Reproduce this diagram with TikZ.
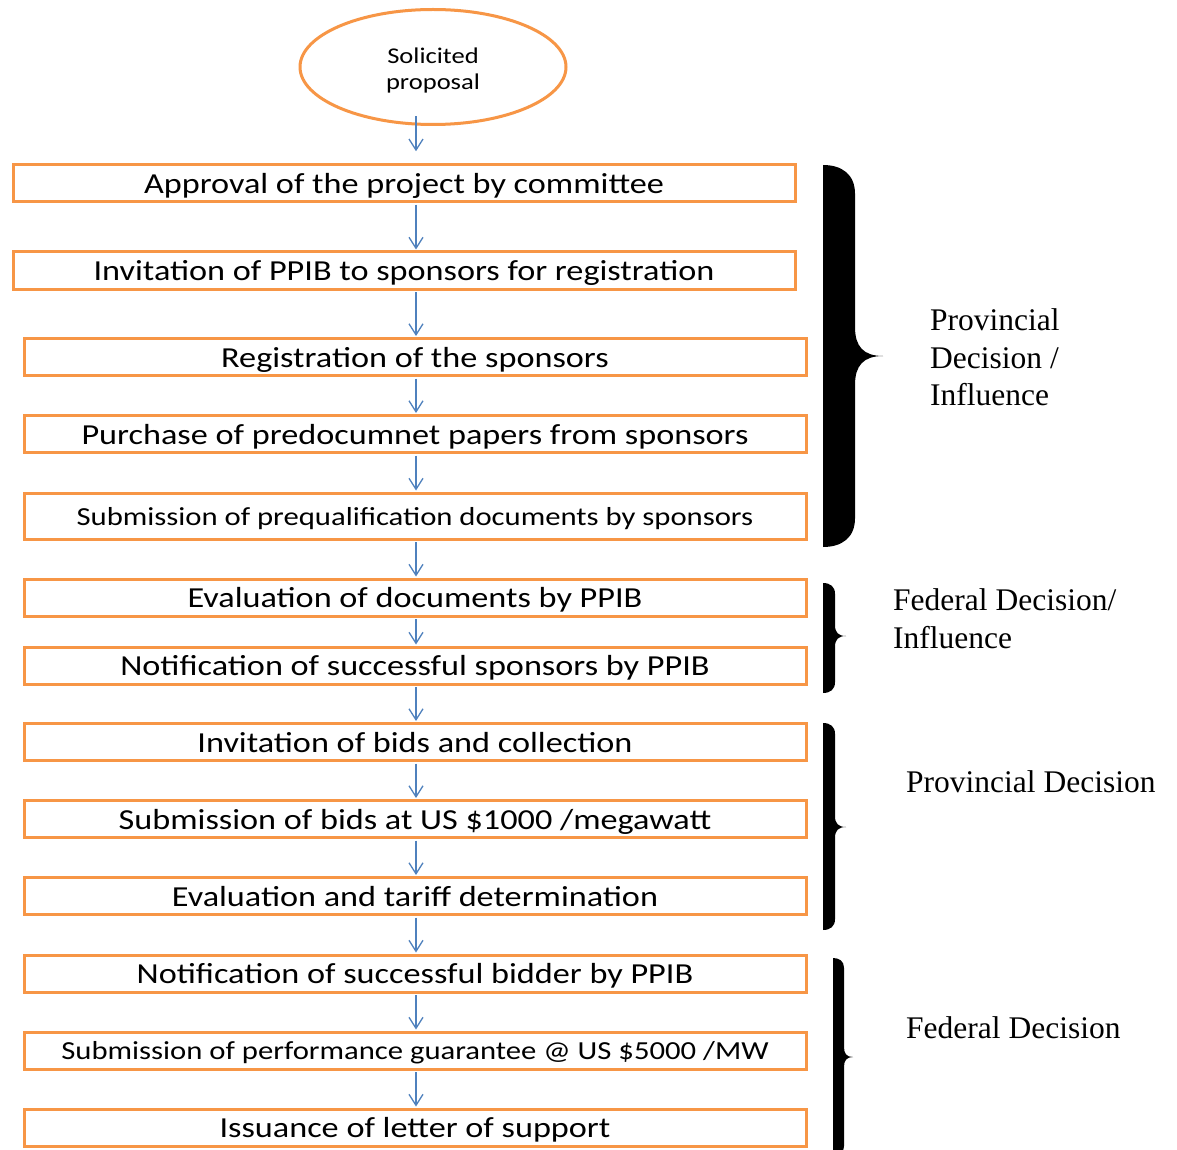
\documentclass[tikz,border=0pt]{standalone}
\usepackage{fontspec}
\setmainfont{Liberation Serif}
\newfontfamily\boxfont{Carlito}[FakeStretch=1.18]
\usetikzlibrary{arrows.meta,shapes.geometric}
\definecolor{boxorange}{HTML}{F79646}
\definecolor{arrowblue}{HTML}{4F81BD}
\newcommand\BraceFill[6]{% left x, top y, bottom y, inner x, tip x, tip y
  \fill[black] (#1,#2) .. controls ({#1+0.6*(#4-#1)},#2) and (#4,{#2+0.3*(#4-#1)}) .. (#4,{#2+0.9*(#4-#1)})
    -- (#4,{#6-0.9*(#4-#1)}) .. controls (#4,{#6-0.3*(#4-#1)}) and ({#4+0.3*(#5-#4)},#6) .. (#5,#6)
    .. controls ({#4+0.3*(#5-#4)},#6) and (#4,{#6+0.3*(#4-#1)}) .. (#4,{#6+0.9*(#4-#1)})
    -- (#4,{#3-0.9*(#4-#1)}) .. controls (#4,{#3-0.3*(#4-#1)}) and ({#1+0.6*(#4-#1)},#3) .. (#1,#3) -- cycle;}
\begin{document}
\begin{tikzpicture}[x=1pt,y=-1pt,
  stepbox/.style={draw=boxorange, line width=3pt, inner sep=0pt, minimum width=782pt, minimum height=37pt, text height=22pt, text depth=2pt, font=\boxfont\fontsize{29}{34}\selectfont},
  smallbox/.style={stepbox, text height=20pt, text depth=2pt, font=\boxfont\fontsize{26}{30}\selectfont},
  startnode/.style={ellipse, draw=boxorange, line width=3pt, inner sep=0pt, minimum width=266pt, minimum height=115pt},
  starttext/.style={align=center, inner sep=0pt, font=\boxfont\fontsize{22.5}{26}\selectfont},
  flow/.style={draw=arrowblue, line width=1.3pt, -{Straight Barb[length=11pt,width=14pt]}, shorten <=1.5pt, shorten >=1pt},
  grouplabel/.style={anchor=north west, inner sep=0pt, align=left, font=\fontsize{31.5}{37.5}\selectfont}]
\useasboundingbox (0,0) rectangle (1177,1150);
\fill[white] (0,0) rectangle (1177,1150);

\node[startnode, label={[starttext, name=s0text, yshift=-4pt]center:Solicited\\proposal}] (s0) at (433,67) {};
\node[stepbox] (b1) at (404,183.25) {Approval of the project by committee};
\node[stepbox] (b2) at (404,270.5) {Invitation of PPIB to sponsors for registration};
\node[stepbox] (b3) at (415,357) {Registration of the sponsors};
\node[stepbox] (b4) at (415,434) {Purchase of predocumnet papers from sponsors};
\node[smallbox, minimum height=46pt] (b5) at (415,516) {Submission of prequalification documents by sponsors};
\node[stepbox] (b6) at (415,597.5) {Evaluation of documents by PPIB};
\node[stepbox] (b7) at (415,665.5) {Notification of successful sponsors by PPIB};
\node[stepbox] (b8) at (415,742) {Invitation of bids and collection};
\node[stepbox] (b9) at (415,819) {Submission of bids at US \$1000 /megawatt};
\node[stepbox] (b10) at (415,896) {Evaluation and tariff determination};
\node[stepbox] (b11) at (415,973.5) {Notification of successful bidder by PPIB};
\node[smallbox] (b12) at (415,1050.5) {Submission of performance guarantee @ US \$5000 /MW};
\node[stepbox] (b13) at (415,1127.5) {Issuance of letter of support};

\coordinate (ax) at (416,0);
\draw[flow, shorten <=-9.5pt, shorten >=12pt] (s0.south -| ax) -- (b1.north -| ax);
\foreach \a/\b in {b1/b2,b2/b3,b3/b4,b4/b5,b5/b6,b6/b7,b7/b8,b8/b9,b9/b10,b10/b11,b11/b12,b12/b13}
  \draw[flow] (\a.south -| ax) -- (\b.north -| ax);

\BraceFill{823}{165}{547}{855}{883}{356}
\BraceFill{823}{583}{693}{835}{846}{636}
\BraceFill{823}{723}{930}{835}{846}{827}
\BraceFill{833}{958}{1156}{844}{853}{1057}

\node[grouplabel] (g1) at (930,308.5) {Provincial\\Decision /\\Influence};
\node[grouplabel] (g2) at (893,588.5) {Federal Decision/\\Influence};
\node[grouplabel] (g3) at (906,770.5) {Provincial Decision};
\node[grouplabel] (g4) at (906,1016.5) {Federal Decision};
\end{tikzpicture}
\end{document}
